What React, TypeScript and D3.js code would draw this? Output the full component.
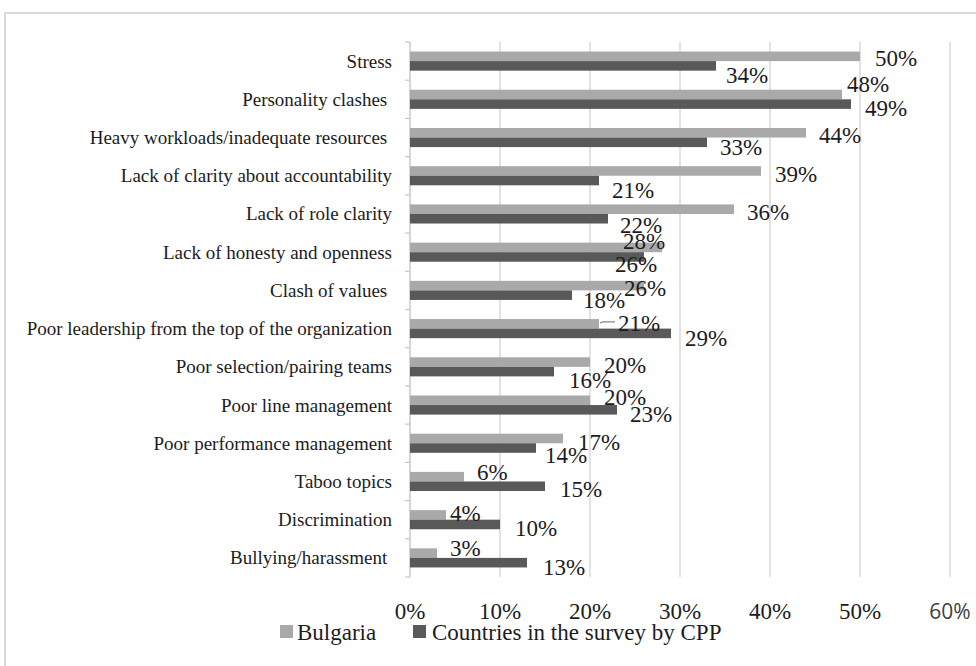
import React from "react";
import * as d3 from "d3";

const categories = [
  "Stress",
  "Personality clashes ",
  "Heavy workloads/inadequate resources ",
  "Lack of clarity about accountability",
  "Lack of role clarity",
  "Lack of honesty and openness",
  "Clash of values ",
  "Poor leadership from the top of the organization",
  "Poor selection/pairing teams",
  "Poor line management",
  "Poor performance management",
  "Taboo topics",
  "Discrimination",
  "Bullying/harassment ",
];
const bulgaria = [50, 48, 44, 39, 36, 28, 26, 21, 20, 20, 17, 6, 4, 3];
const cpp = [34, 49, 33, 21, 22, 26, 18, 29, 16, 23, 14, 15, 10, 13];
const seriesNames = ["Bulgaria", "Countries in the survey by CPP"];
const xTicks = [0, 10, 20, 30, 40, 50, 60];

// label nudges (dx from bar end, dy from bar centre), as placed in the source chart
const nudgeA: [number, number][] = [
  [15, 2], [5, -11], [13, 2], [14, 3], [13, 3], [-39, -6], [-20, 2],
  [19, -1], [14, 3], [14, -3], [15, 4], [13, -5], [4, -2], [13, -5],
];
const nudgeB: [number, number][] = [
  [10, 9], [14, 4], [13, 5], [13, 9], [12, 6], [-29, 7], [11, 5],
  [14, 5], [15, 8], [13, 4], [9, 7], [15, 3], [15, 4], [16, 4],
];

const W = 976;
const H = 666;
const LIGHT = "#a9a9a9";
const DARK = "#595959";
const TEXT = "#1c1c1c";
const SERIF = "'Liberation Serif', 'Times New Roman', serif";

export default function App() {
  const x = d3.scaleLinear().domain([0, 60]).range([410, 950]);
  const y = d3.scaleBand<string>().domain(categories).range([42, 577]).padding(0);
  const sub = d3
    .scaleBand<string>()
    .domain(["a", "b"])
    .range([0, y.bandwidth()])
    .paddingInner(0)
    .paddingOuter(1);
  const bh = sub.bandwidth();
  const boundaries = d3.range(categories.length + 1).map((i) => 42 + i * y.step());

  return (
    <svg
      width={W}
      height={H}
      style={{ position: "absolute", left: 0, top: 0, background: "#fff" }}
    >
      <rect x={0} y={0} width={W} height={H} fill="#fff" />
      <rect x={5} y={13} width={1100} height={800} fill="none" stroke="#d9d9d9" strokeWidth={2} />

      {/* gridlines */}
      {xTicks.slice(1).map((t) => (
        <line key={t} x1={x(t)} x2={x(t)} y1={42} y2={577} stroke="#d9d9d9" strokeWidth={1.5} />
      ))}
      {/* axis */}
      <line x1={x(0)} x2={x(0)} y1={42} y2={577} stroke="#c8c8c8" strokeWidth={1.5} />
      {boundaries.map((b, i) => (
        <line key={i} x1={x(0) - 5} x2={x(0)} y1={b} y2={b} stroke="#c8c8c8" strokeWidth={1.2} />
      ))}

      {/* bars */}
      {categories.map((c, i) => {
        const y0 = (y(c) as number) + (sub("a") as number);
        const y1 = (y(c) as number) + (sub("b") as number);
        return (
          <g key={c}>
            <rect x={x(0)} y={y0} width={x(bulgaria[i]) - x(0)} height={bh} fill={LIGHT} />
            <rect x={x(0)} y={y1} width={x(cpp[i]) - x(0)} height={bh} fill={DARK} />
          </g>
        );
      })}

      {/* category labels */}
      {categories.map((c) => (
        <text
          key={c}
          x={392}
          y={(y(c) as number) + y.bandwidth() / 2 + 6.5}
          textAnchor="end"
          fontFamily={SERIF}
          fontSize={19}
          fill={TEXT}
          style={{ whiteSpace: "pre" }}
        >
          {c}
        </text>
      ))}

      {/* value labels */}
      {categories.map((c, i) => {
        const ca = (y(c) as number) + (sub("a") as number) + bh / 2;
        const cb = (y(c) as number) + (sub("b") as number) + bh / 2;
        const ea = x(bulgaria[i]);
        const eb = x(cpp[i]);
        return (
          <g key={c} fontFamily={SERIF} fontSize={23} fill={TEXT}>
            <text x={ea + nudgeA[i][0]} y={ca + nudgeA[i][1] + 8}>
              {`${bulgaria[i]}%`}
            </text>
            <text x={eb + nudgeB[i][0]} y={cb + nudgeB[i][1] + 8}>
              {`${cpp[i]}%`}
            </text>
            {i === 7 && (
              <polyline
                points={`${ea + 1},${ca - 1} ${ea + 4},${ca - 2} ${ea + nudgeA[i][0] - 3},${ca - 2}`}
                fill="none"
                stroke="#8a8a8a"
                strokeWidth={1.2}
              />
            )}
          </g>
        );
      })}

      {/* x tick labels */}
      {xTicks.map((t) => (
        <text
          key={t}
          x={x(t)}
          y={619}
          textAnchor="middle"
          fontFamily={t === 60 ? "'Open Sans', sans-serif" : SERIF}
          fontSize={t === 60 ? 21 : 23}
          fill={t === 60 ? "#404040" : TEXT}
        >
          {`${t}%`}
        </text>
      ))}

      {/* legend */}
      <rect x={280} y={625} width={13} height={13} fill={LIGHT} />
      <text x={297} y={640} fontFamily={SERIF} fontSize={23} fill={TEXT}>
        {seriesNames[0]}
      </text>
      <rect x={413} y={625} width={13} height={13} fill={DARK} />
      <text x={432} y={640} fontFamily={SERIF} fontSize={23} fill={TEXT}>
        {seriesNames[1]}
      </text>
    </svg>
  );
}
